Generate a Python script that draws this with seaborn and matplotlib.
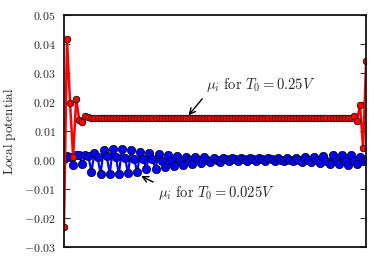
import matplotlib
matplotlib.use("Agg")
import matplotlib.pyplot as plt
import matplotlib.ticker as mticker
import seaborn as sns

# values, one per site
site = list(range(100))

mu_high = [
    -0.0230, 0.0417, 0.0197, 0.0010, 0.0210, 0.0138, 0.0130, 0.0152, 0.0147, 0.0145,
    0.0145, 0.0145, 0.0145, 0.0145, 0.0145, 0.0145, 0.0145, 0.0145, 0.0145, 0.0145,
    0.0145, 0.0145, 0.0145, 0.0145, 0.0145, 0.0145, 0.0145, 0.0145, 0.0145, 0.0145,
    0.0145, 0.0145, 0.0145, 0.0145, 0.0145, 0.0145, 0.0145, 0.0145, 0.0145, 0.0145,
    0.0145, 0.0145, 0.0145, 0.0145, 0.0145, 0.0145, 0.0145, 0.0145, 0.0145, 0.0145,
    0.0145, 0.0145, 0.0145, 0.0145, 0.0145, 0.0145, 0.0145, 0.0145, 0.0145, 0.0145,
    0.0145, 0.0145, 0.0145, 0.0145, 0.0145, 0.0145, 0.0145, 0.0145, 0.0145, 0.0145,
    0.0145, 0.0145, 0.0145, 0.0145, 0.0145, 0.0145, 0.0145, 0.0145, 0.0145, 0.0145,
    0.0145, 0.0145, 0.0145, 0.0145, 0.0145, 0.0145, 0.0145, 0.0145, 0.0145, 0.0145,
    0.0145, 0.0145, 0.0145, 0.0145, 0.0145, 0.0150, 0.0136, 0.0190, 0.0041, 0.0340,
]

mu_low = [
    0.0003, 0.0015, 0.0012, -0.0016, 0.0019, 0.0016, -0.0014, 0.0017, 0.0013, -0.0041,
    0.0024, 0.0010, -0.0048, 0.0034, 0.0014, -0.0048, 0.0038, 0.0010, -0.0048, 0.0038,
    0.0007, -0.0045, 0.0034, 0.0004, -0.0043, 0.0028, 0.0003, -0.0031, 0.0024, 0.0002,
    -0.0030, 0.0021, -0.0002, -0.0024, 0.0017, -0.0003, -0.0020, 0.0014, -0.0002, -0.0017,
    0.0011, -0.0001, -0.0014, 0.0010, 0.0000, -0.0010, 0.0009, 0.0001, -0.0008, 0.0008,
    0.0001, -0.0006, 0.0008, 0.0002, -0.0005, 0.0007, 0.0002, -0.0004, 0.0007, 0.0002,
    -0.0003, 0.0006, 0.0002, -0.0003, 0.0006, 0.0002, -0.0003, 0.0006, 0.0002, -0.0003,
    0.0006, 0.0001, -0.0004, 0.0007, 0.0001, -0.0005, 0.0008, 0.0000, -0.0006, 0.0009,
    0.0000, -0.0008, 0.0011, -0.0001, -0.0012, 0.0013, -0.0002, -0.0015, 0.0017, -0.0002,
    -0.0015, 0.0017, -0.0003, -0.0016, 0.0017, -0.0002, -0.0014, 0.0010, -0.0004, 0.0003,
]

yticks = [-0.03, -0.02, -0.01, 0.00, 0.01, 0.02, 0.03, 0.04, 0.05]

sns.set_style("white")
plt.rcParams["mathtext.fontset"] = "cm"

fig = plt.figure(figsize=(3.74, 2.62), dpi=100)
ax = fig.add_axes([0.171, 0.057, 0.808, 0.886])

# blue first, red sits on top of it
sns.lineplot(x=site, y=mu_low, ax=ax, color="#0000ff", linewidth=1.6,
             marker="o", markersize=6, markeredgecolor="k", markeredgewidth=0.5)
sns.lineplot(x=site, y=mu_high, ax=ax, color="#ff0000", linewidth=1.8,
             marker="o", markersize=4.8, markeredgecolor="k", markeredgewidth=0.5)

ax.set_xlim(0, 99)
ax.set_ylim(-0.03, 0.05)
ax.set_xticks([])
ax.set_yticks(yticks)
ax.yaxis.set_major_formatter(mticker.FuncFormatter(lambda v, p: r"$%.2f$" % v))
ax.tick_params(axis="y", direction="in", length=4, width=0.8, labelsize=8.5,
               right=True, left=True, pad=6, color="#333333")
ax.set_ylabel(r"$\mathrm{Local\ potential}$", fontsize=9.5, labelpad=4)

for s in ax.spines.values():
    s.set_linewidth(1.3)
    s.set_color("#111111")

ax.annotate(r"$\mu_i\ \mathrm{for}\ T_0 = 0.25V$", xy=(40.8, 0.0154), xytext=(46.5, 0.0226),
            ha="left", va="bottom", fontsize=10.5,
            arrowprops=dict(arrowstyle="->", color="k", lw=1.0, relpos=(0, 0),
                            shrinkA=1, shrinkB=0))
ax.annotate(r"$\mu_i\ \mathrm{for}\ T_0 = 0.025V$", xy=(25.3, -0.0055), xytext=(30.7, -0.0084),
            ha="left", va="top", fontsize=10.5,
            arrowprops=dict(arrowstyle="->", color="k", lw=1.0, relpos=(0, 1),
                            shrinkA=1, shrinkB=0))

fig.savefig("out.png", dpi=100)
